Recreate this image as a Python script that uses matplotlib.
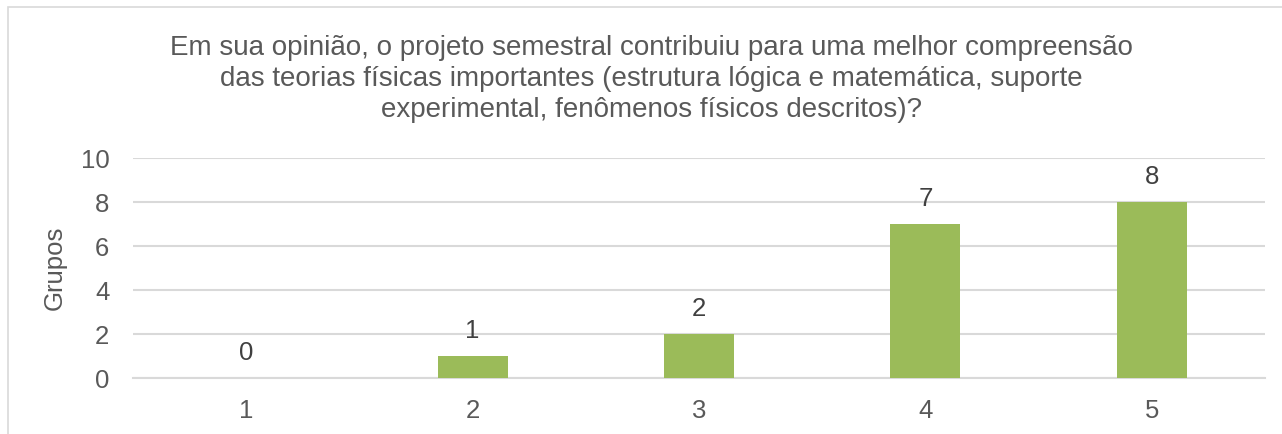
import matplotlib.pyplot as plt
from matplotlib.patches import Rectangle
import numpy as np

# ---  DATA  --- #
categories = ['1', '2', '3', '4', '5']
grupos = [0, 1, 2, 7, 8]
title = ('Em sua opinião, o projeto semestral contribuiu para uma melhor compreensão\n'
         'das teorias físicas importantes (estrutura lógica e matemática, suporte\n'
         'experimental, fenômenos físicos descritos)?')
yticks = [0, 2, 4, 6, 8, 10]

# ---  STYLE  --- #
plt.rcParams['font.family'] = ['Liberation Sans', 'DejaVu Sans']
BAR_COLOR = '#9bbb59'
GRID_COLOR = '#d9d9d9'
TEXT_COLOR = '#595959'
LABEL_COLOR = '#404040'
FS = 18.5

if __name__ == '__main__':
    fig = plt.figure(figsize=(12.82, 4.34), dpi=100)
    # Chart border (right and bottom edges are cut off in the reference)
    fig.patches.append(Rectangle((8/1282, -0.1), 1.2, 1 - 7/434 + 0.1,
                                 transform=fig.transFigure, fill=False,
                                 edgecolor='#d9d9d9', lw=1.2))
    ax = fig.add_axes([133/1282, 1 - 378/434, 1132/1282, 220/434])
    x = np.arange(len(categories))
    ax.bar(x, grupos, width=0.31, color=BAR_COLOR, zorder=3)
    for xi, v in zip(x, grupos):
        ax.annotate(str(v), (xi, v), xytext=(0, 18), textcoords='offset points',
                    ha='center', va='center', fontsize=FS, color=LABEL_COLOR)
    ax.set_xlim(-0.5, len(categories) - 0.5)
    ax.set_ylim(0, 10)
    ax.set_yticks(yticks)
    ax.set_xticks(x)
    ax.set_xticklabels(categories)
    ax.tick_params(axis='both', length=0, labelsize=FS, labelcolor=TEXT_COLOR)
    ax.tick_params(axis='y', pad=17)
    ax.tick_params(axis='x', pad=15)
    ax.grid(axis='y', color=GRID_COLOR, lw=1.5, zorder=0)
    for side in ['top', 'right', 'left']:
        ax.spines[side].set_visible(False)
    ax.spines['bottom'].set_color(GRID_COLOR)
    ax.spines['bottom'].set_linewidth(1.5)
    ax.set_ylabel('Grupos', fontsize=FS, color=TEXT_COLOR)
    ax.yaxis.set_label_coords((67 - 133) / 1132, 0.5)
    fig.text(651/1282, 1 - 79/434, title, ha='center', va='center',
             fontsize=20, color=TEXT_COLOR, linespacing=1.24)
    fig.savefig('out.png', dpi=100)
